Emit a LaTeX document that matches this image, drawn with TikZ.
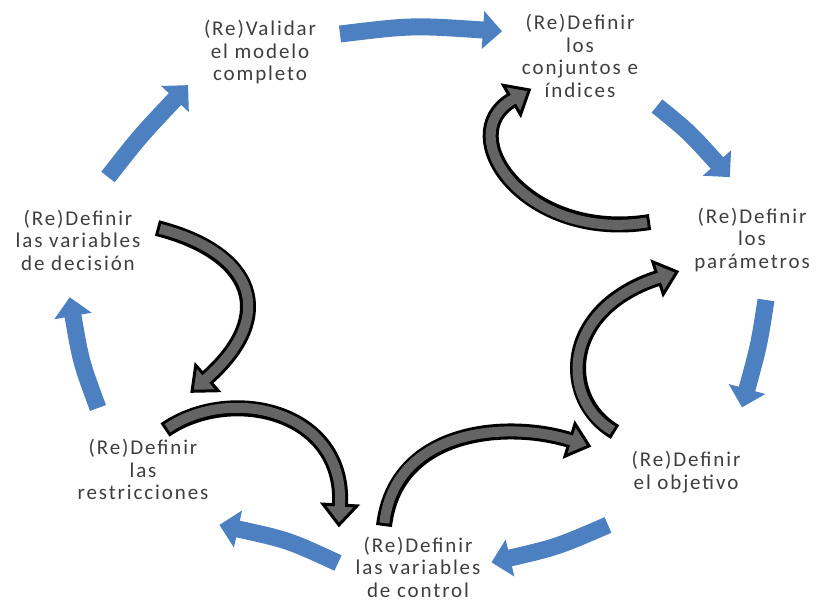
\documentclass[tikz,border=0pt]{standalone}
\usepackage{fontspec}
\setmainfont{Carlito}[LetterSpace=9]
\usetikzlibrary{calc}

\definecolor{flowblue}{RGB}{76,128,192}
\definecolor{loopgray}{RGB}{100,100,100}
\definecolor{labelgray}{RGB}{62,62,62}

\tikzset{
  steplabel/.style={font=\fontsize{21}{22.5}\selectfont, text=labelgray,
    align=center, inner sep=0pt},
}

% Blue cycle arrow: tail, single control point, head base.
% The tip is placed along the tangent at the end of the curve.
\newcommand{\cyclearrow}[3]{%
  \coordinate (ca0) at (#1);
  \coordinate (ca1) at (#2);
  \coordinate (ca2) at (#3);
  \draw[flowblue, line width=17pt] (ca0) .. controls (ca1) .. (ca2)
    -- ($(ca2)!-1pt!(ca1)$);
  \fill[flowblue] ($(ca2)!19pt!90:(ca1)$) -- ($(ca2)!-19pt!(ca1)$)
    -- ($(ca2)!19pt!-90:(ca1)$) -- cycle;
}

% Grey feedback arrow with a black outline: tail, two controls, head base.
\newcommand{\looparrow}[4]{%
  \coordinate (la0) at (#1);
  \coordinate (la1) at (#2);
  \coordinate (la2) at (#3);
  \coordinate (la3) at (#4);
  \draw[black, line width=16pt] (la0) .. controls (la1) and (la2) .. (la3);
  \filldraw[fill=loopgray, draw=black, line width=3pt, line join=miter]
    ($(la3)!17pt!90:(la2)$) -- ($(la3)!-20pt!(la2)$)
    -- ($(la3)!17pt!-90:(la2)$) -- cycle;
  \draw[loopgray, line width=10pt, shorten <=3pt]
    (la0) .. controls (la1) and (la2) .. (la3) -- ($(la3)!-3pt!(la2)$);
}

\begin{document}
\begin{tikzpicture}[x=1pt, y=-1pt]
  \fill[white] (0,0) rectangle (819,603);
  \useasboundingbox (0,0) rectangle (819,603);

  % main cycle (clockwise)
  \cyclearrow{340,34}{412,25.3}{483,30}
  \cyclearrow{657,106}{689,132}{717,163}
  \cyclearrow{766,300}{759,345}{747,389}
  \cyclearrow{608,525}{557,547}{510,558}
  \cyclearrow{338,563}{288,540}{238,529}
  \cyclearrow{98,408}{81,362}{73,316}
  \cyclearrow{108,177}{139.5,136.7}{175,99}

  % feedback loops
  \looparrow{650,222}{525,242}{452,135}{512,100}
  \looparrow{157,228}{254,253}{278,315}{207,378}
  \looparrow{165,430}{230,385}{345,410}{340,505}
  \looparrow{384,526}{395,430}{505,420}{570,440}
  \looparrow{615,432}{560,400}{560,310}{658,278}

  % steps
  \node[steplabel] (validar)   at (260,52.5) {(Re)Validar\\el modelo\\completo};
  \node[steplabel] (conjuntos) at (580,56)   {(Re)Definir\\los\\conjuntos e\\índices};
  \node[steplabel] (parametros) at (752,240) {(Re)Definir\\los\\parámetros};
  \node[steplabel] (objetivo)  at (686,472)  {(Re)Definir\\el objetivo};
  \node[steplabel] (control)   at (418,567) {(Re)Definir\\las variables\\de control};
  \node[steplabel] (restric)   at (143,469.5) {(Re)Definir\\las\\restricciones};
  \node[steplabel] (decision)  at (78,240)   {(Re)Definir\\las variables\\de decisión};
\end{tikzpicture}
\end{document}
